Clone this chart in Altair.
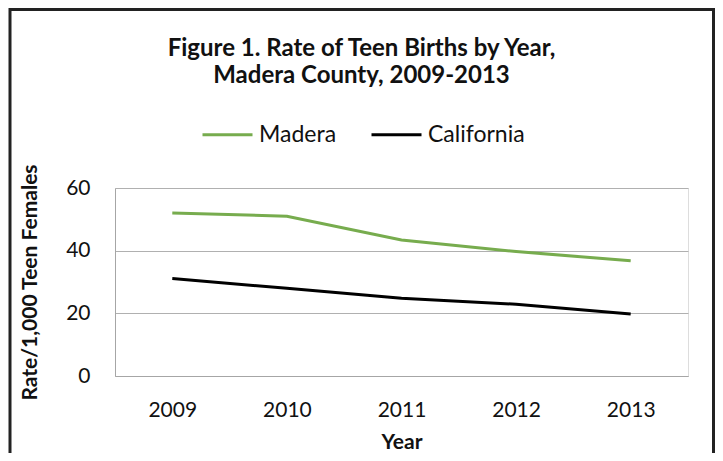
import altair as alt
import pandas as pd

years = ["2009", "2010", "2011", "2012", "2013"]
madera = [52.0, 51.0, 43.4, 39.7, 36.8]
california = [31.1, 28.0, 24.8, 22.9, 19.8]
series_names = ["Madera", "California"]
series_colors = ["#77ac4e", "#000000"]

rows = []
for y, v in zip(years, madera):
    rows.append({"Year": y, "Series": "Madera", "Rate": v})
for y, v in zip(years, california):
    rows.append({"Year": y, "Series": "California", "Rate": v})
df = pd.DataFrame(rows)

FONT = "Lato"
W, H = 573, 188

lines = alt.Chart(df).mark_line(strokeWidth=3).encode(
    x=alt.X("Year:O", sort=years,
            scale=alt.Scale(type="point", padding=0.5),
            axis=alt.Axis(title="Year", labelAngle=0, ticks=False, domain=True,
                          domainColor="#a6a6a6", grid=False, labelFontSize=21,
                          labelFont=FONT, labelColor="#111", labelPadding=23,
                          titleFont=FONT, titleFontSize=21, titleFontWeight="bold",
                          titleColor="#111", titlePadding=11)),
    y=alt.Y("Rate:Q", scale=alt.Scale(domain=[0, 60]),
            axis=alt.Axis(title="Rate/1,000 Teen Females", values=[0, 20, 40, 60],
                          ticks=False, domain=True, domainColor="#a6a6a6",
                          grid=True, gridColor="#b0b0b0", gridWidth=1.2,
                          labelFontSize=21, labelFont=FONT, labelColor="#111",
                          labelPadding=25, titleFont=FONT, titleFontSize=21,
                          titleFontWeight="bold", titleColor="#111", titlePadding=25)),
    color=alt.Color("Series:N", sort=series_names,
                    scale=alt.Scale(domain=series_names, range=series_colors),
                    legend=alt.Legend(orient="none", legendX=86, legendY=-80,
                                      direction="horizontal", title=None,
                                      symbolType="stroke", symbolSize=2500,
                                      symbolStrokeWidth=3, labelFontSize=23,
                                      labelFont=FONT, labelColor="#111",
                                      columnPadding=28, labelOffset=5, padding=0)),
)

border = alt.Chart(pd.DataFrame({"a": [0]})).mark_rect(
    filled=False, stroke="#222", strokeWidth=3, clip=False
).encode(x=alt.value(-105), x2=alt.value(598.5), y=alt.value(-178.5), y2=alt.value(300))

chart = alt.layer(border, lines).properties(
    width=W, height=H,
    autosize=alt.AutoSizeParams(type="none"),
    padding={"left": 107, "top": 180, "right": 27, "bottom": 77},
    title=alt.TitleParams(
        text=["Figure 1. Rate of Teen Births by Year,", "Madera County, 2009-2013"],
        font=FONT, fontSize=24, fontWeight="bold", color="#111",
        anchor="middle", dx=-40, offset=-80, lineHeight=27),
).configure_view(stroke=None).configure(background="white")

chart.save("out.html", embed_options={"renderer": "svg", "actions": False})
